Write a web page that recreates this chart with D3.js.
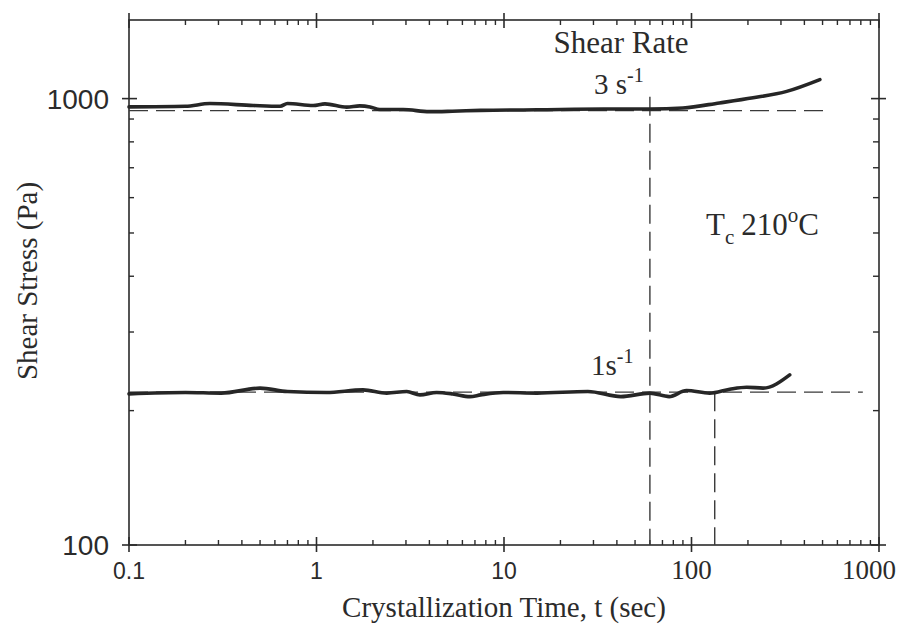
<!DOCTYPE html>
<html>
<head>
<meta charset="utf-8">
<script src="https://cdn.jsdelivr.net/npm/d3@7"></script>
<style>
  body { margin: 0; background: #fff; }
  svg text { fill: #2b2b2b; }
</style>
</head>
<body>
<div id="chart"></div>
<script>
// crystallization time (s) and shear stress (Pa)
var upperTime   = [0.1, 0.2, 0.27, 0.46, 0.64, 0.7, 0.96, 1.11, 1.45, 1.7, 1.93, 2.18, 2.9, 4.0, 5.3, 7.5, 15, 34, 60, 90, 141, 213, 322, 484];
var upperStress = [958, 961, 975, 965, 961, 975, 965, 973, 957, 963, 958, 945, 945, 935, 937, 941, 944, 948, 948, 953, 978, 1004, 1038, 1103];

var lowerTime   = [0.1, 0.2, 0.31, 0.5, 0.7, 1.13, 1.77, 2.37, 3.03, 3.56, 4.37, 5.33, 6.58, 7.5, 9.9, 15, 28, 42, 60, 76, 94, 125, 160, 197, 241, 334];
var lowerStress = [218, 219.6, 218.9, 224.6, 220.7, 219.6, 222.6, 218.9, 220.7, 216.9, 219.6, 218, 215, 216.9, 219.6, 218.9, 220.7, 215, 218.9, 215, 221.8, 218.9, 223.4, 225.7, 224.6, 240.5];

// guide lines: [t1, s1, t2, s2]
var guideLines = [
  [0.1, 940, 515, 940],
  [0.1, 220, 820, 220],
  [60, 1010, 60, 100],
  [133, 220, 133, 100]
];

var xTickLabels = ["0.1", "1", "10", "100", "1000"];
var yTickLabels = ["100", "1000"];

var width = 900, height = 632;
var plotLeft = 129, plotRight = 879, plotTop = 20, plotBottom = 545;

var svg = d3.select("#chart").append("svg")
  .attr("width", width)
  .attr("height", height);

var x = d3.scaleLog().domain([0.1, 1000]).range([plotLeft, plotRight]);
var y = d3.scaleLog().domain([100, 1500]).range([plotBottom, plotTop]);

var ink = "#2b2b2b";

// frame
svg.append("rect")
  .attr("x", plotLeft).attr("y", plotTop)
  .attr("width", plotRight - plotLeft).attr("height", plotBottom - plotTop)
  .attr("fill", "none").attr("stroke", ink).attr("stroke-width", 1.6);

function isDecade(v) {
  return Math.abs(Math.log10(v) - Math.round(Math.log10(v))) < 1e-9;
}

// x ticks (bottom and top)
x.ticks().forEach(function(t) {
  var px = x(t);
  if (isDecade(t)) {
    svg.append("line").attr("x1", px).attr("x2", px).attr("y1", plotBottom - 8).attr("y2", plotBottom + 7)
      .attr("stroke", ink).attr("stroke-width", 1.6);
    svg.append("line").attr("x1", px).attr("x2", px).attr("y1", plotTop - 7).attr("y2", plotTop + 8)
      .attr("stroke", ink).attr("stroke-width", 1.6);
  } else {
    svg.append("line").attr("x1", px).attr("x2", px).attr("y1", plotBottom - 5).attr("y2", plotBottom)
      .attr("stroke", ink).attr("stroke-width", 1.4);
    svg.append("line").attr("x1", px).attr("x2", px).attr("y1", plotTop).attr("y2", plotTop + 5)
      .attr("stroke", ink).attr("stroke-width", 1.4);
  }
});

// y ticks (left and right)
y.ticks().filter(function(v) { return v <= 1000; }).forEach(function(v) {
  var py = y(v);
  if (isDecade(v)) {
    svg.append("line").attr("x1", plotLeft - 7).attr("x2", plotLeft + 8).attr("y1", py).attr("y2", py)
      .attr("stroke", ink).attr("stroke-width", 1.6);
    svg.append("line").attr("x1", plotRight - 8).attr("x2", plotRight + 7).attr("y1", py).attr("y2", py)
      .attr("stroke", ink).attr("stroke-width", 1.6);
  } else {
    svg.append("line").attr("x1", plotLeft).attr("x2", plotLeft + 5).attr("y1", py).attr("y2", py)
      .attr("stroke", ink).attr("stroke-width", 1.4);
    svg.append("line").attr("x1", plotRight - 6).attr("x2", plotRight).attr("y1", py).attr("y2", py)
      .attr("stroke", ink).attr("stroke-width", 1.4);
  }
});

// tick labels
svg.selectAll(".xlab")
  .data(xTickLabels)
  .enter()
  .append("text")
  .attr("x", function(d, i) { return x(+d) + (i == xTickLabels.length - 1 ? -10 : 0); })
  .attr("y", 579)
  .attr("text-anchor", "middle")
  .attr("font-family", function(d) { return +d >= 100 ? "Liberation Serif" : "Liberation Sans"; })
  .attr("font-size", function(d) { return +d >= 100 ? "27px" : "23px"; })
  .text(function(d) { return d; });

svg.selectAll(".ylab")
  .data(yTickLabels)
  .enter()
  .append("text")
  .attr("x", 109)
  .attr("y", function(d) { return y(+d) + 10; })
  .attr("text-anchor", "end")
  .attr("font-family", "Liberation Sans")
  .attr("font-size", "28px")
  .text(function(d) { return d; });

// axis titles
svg.append("text")
  .attr("x", 504).attr("y", 617)
  .attr("text-anchor", "middle")
  .attr("font-family", "Liberation Serif")
  .attr("font-size", "29px")
  .text("Crystallization Time, t (sec)");

svg.append("text")
  .attr("transform", "translate(37,281) rotate(-90)")
  .attr("text-anchor", "middle")
  .attr("font-family", "Liberation Serif")
  .attr("font-size", "29px")
  .text("Shear Stress (Pa)");

// dashed guide lines
svg.selectAll(".guide")
  .data(guideLines)
  .enter()
  .append("line")
  .attr("x1", function(d) { return x(d[0]); })
  .attr("y1", function(d) { return y(d[1]); })
  .attr("x2", function(d) { return x(d[2]); })
  .attr("y2", function(d) { return y(d[3]); })
  .attr("stroke", "#3a3a3a")
  .attr("stroke-width", 1.4)
  .attr("stroke-dasharray", "19,8");

// data curves
var line = d3.line()
  .x(function(d) { return x(d[0]); })
  .y(function(d) { return y(d[1]); })
  .curve(d3.curveMonotoneX);

var series = [d3.zip(upperTime, upperStress), d3.zip(lowerTime, lowerStress)];
svg.selectAll(".curve")
  .data(series)
  .enter()
  .append("path")
  .attr("d", line)
  .attr("fill", "none")
  .attr("stroke", "#262626")
  .attr("stroke-width", 3.6)
  .attr("stroke-linejoin", "round")
  .attr("stroke-linecap", "round");

// annotations
var serif = "Liberation Serif";
svg.append("text").attr("x", 621).attr("y", 53).attr("text-anchor", "middle")
  .attr("font-family", serif).attr("font-size", "31px").text("Shear Rate");

var a1 = svg.append("text").attr("x", 594).attr("y", 94)
  .attr("font-family", serif).attr("font-size", "29px");
a1.append("tspan").text("3 s");
a1.append("tspan").attr("dy", -12).attr("font-size", "20px").text("-1");

var a2 = svg.append("text").attr("x", 591).attr("y", 375)
  .attr("font-family", serif).attr("font-size", "29px");
a2.append("tspan").text("1s");
a2.append("tspan").attr("dy", -12).attr("font-size", "20px").text("-1");

var a3 = svg.append("text").attr("x", 706).attr("y", 235)
  .attr("font-family", serif).attr("font-size", "31px");
a3.append("tspan").text("T");
a3.append("tspan").attr("dy", 9).attr("font-size", "21px").text("c");
a3.append("tspan").attr("dy", -9).attr("dx", 7).text("210");
a3.append("tspan").attr("dy", -13).attr("font-size", "21px").text("o");
a3.append("tspan").attr("dy", 13).text("C");
</script>
</body>
</html>
